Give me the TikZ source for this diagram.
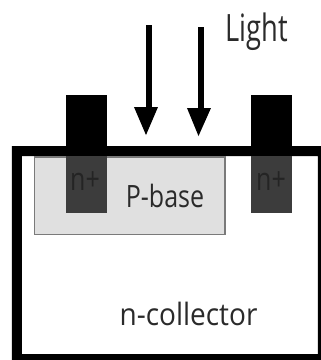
\documentclass[tikz,border=0pt]{standalone}
\usepackage{fontspec}
\setmainfont{Open Sans}
\definecolor{basegray}{HTML}{E0E0E0}
\definecolor{baseedge}{HTML}{7A7A7A}
\definecolor{nplus}{HTML}{3C3C3C}
\definecolor{inkgray}{HTML}{2A2A2A}
\definecolor{wellink}{HTML}{242424}
\begin{document}
\begin{tikzpicture}[x=1pt,y=-1pt,
  lbl/.style={text=inkgray,inner sep=0pt,anchor=base,transform shape},
  welllbl/.style={lbl,text=wellink,yscale=1.27,font=\fontsize{25}{25}\selectfont},
  ray/.style={line width=6pt,black},
  tip/.style={fill=black,draw=none}]
\useasboundingbox (0,0) rectangle (321,360);
\fill[white] (0,0) rectangle (321,360);
% collector frame
\path[fill=black,even odd rule] (12,146) rectangle (321,360) (22,156) rectangle (318,354);
% p-base
\draw[fill=basegray,draw=baseedge,line width=1.5pt] (34.5,157) rectangle (225,234.5);
% n+ wells
\fill[nplus] (66,156) rectangle (107.5,213);
\fill[nplus] (251,156) rectangle (292.5,213);
% contacts
\fill[black] (66,95) rectangle (107.5,148);
\fill[black] (251,95) rectangle (292.5,148);
% arrows
\coordinate (a1s) at (149,25); \coordinate (a1e) at (149,110);
\coordinate (a2s) at (201,27); \coordinate (a2e) at (201,111);
\draw[ray] (a1s) -- (a1e);
\draw[ray] (a2s) -- (a2e);
\fill[tip] (134,107) -- (158,107) -- (146,135) -- cycle;
\fill[tip] (187,108) -- (211,108) -- (198.5,136) -- cycle;
% labels
\node[lbl,yscale=1.38,font=\fontsize{27.3}{27.3}\selectfont] (light) at (257,41) {Light};
\node[lbl,yscale=1.23,font=\fontsize{25}{25}\selectfont] (pbase) at (165,207) {P-base};
\node[lbl,yscale=1.1,font=\fontsize{28}{28}\selectfont] (ncoll) at (188.5,325) {n-collector};
\node[welllbl] (n1) at (85,190) {n+};
\node[welllbl] (n2) at (271,190) {n+};
\end{tikzpicture}
\end{document}
